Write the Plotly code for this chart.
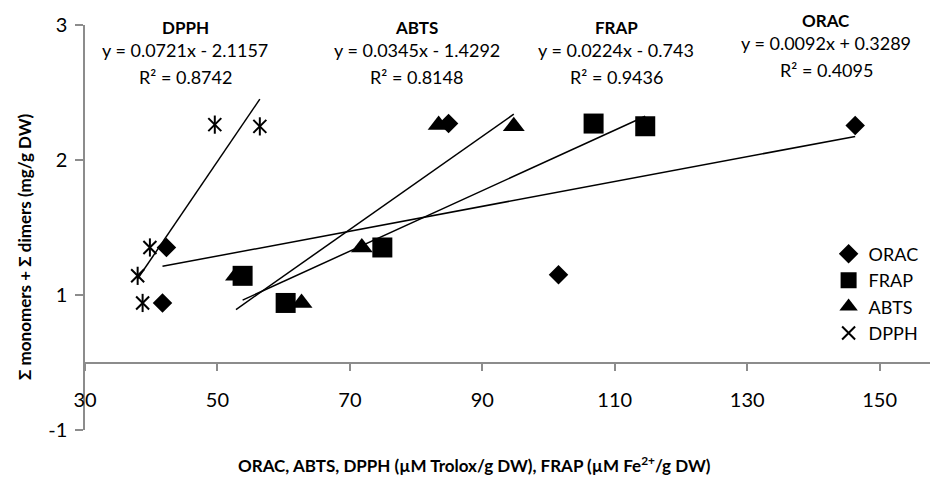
import plotly.graph_objects as go

# ---------------- data ----------------
series_names = ["ORAC", "FRAP", "ABTS", "DPPH"]

orac_x = [41.7, 42.3, 84.9, 101.5, 146.3]
orac_y = [0.441, 0.852, 1.770, 0.650, 1.755]

frap_x = [53.8, 60.3, 74.9, 106.8, 114.6]
frap_y = [0.642, 0.441, 0.852, 1.770, 1.750]

abts_x = [52.8, 62.7, 71.8, 83.4, 94.75]
abts_y = [0.642, 0.441, 0.852, 1.760, 1.750]

dpph_x = [37.95, 38.7, 39.8, 49.6, 56.4]
dpph_y = [0.642, 0.441, 0.852, 1.762, 1.749]

# trendline equations as printed on the chart
slopes = {"ORAC": 0.0092, "FRAP": 0.0224, "ABTS": 0.0345, "DPPH": 0.0721}
intercepts = {"ORAC": 0.3289, "FRAP": -0.743, "ABTS": -1.4292, "DPPH": -2.1157}
r_squared = {"ORAC": "0.4095", "FRAP": "0.9436", "ABTS": "0.8148", "DPPH": "0.8742"}
equations = {
    "DPPH": "y = 0.0721x - 2.1157",
    "ABTS": "y = 0.0345x - 1.4292",
    "FRAP": "y = 0.0224x - 0.743",
    "ORAC": "y = 0.0092x + 0.3289",
}

# axis ticks
x_tickvals = [30, 50, 70, 90, 110, 130, 150]
y_tickvals = [-0.5, 0.5, 1.5, 2.5]
y_ticktext = ["-1", "1", "2", "3"]

# ---------------- figure ----------------
FONT = "Lato, Carlito, 'Liberation Sans', sans-serif"
data = {
    "ORAC": (orac_x, orac_y),
    "FRAP": (frap_x, frap_y),
    "ABTS": (abts_x, abts_y),
    "DPPH": (dpph_x, dpph_y),
}

fig = go.Figure()

# trendlines (spanning each series' x range)
for name in ["DPPH", "ABTS", "FRAP", "ORAC"]:
    xs = data[name][0]
    x0, x1 = min(xs), max(xs)
    fig.add_trace(go.Scatter(
        x=[x0, x1],
        y=[slopes[name] * x0 + intercepts[name], slopes[name] * x1 + intercepts[name]],
        mode="lines", line=dict(color="black", width=1.5),
        showlegend=False, hoverinfo="skip",
    ))

marker_styles = {
    "ORAC": dict(symbol="diamond", size=15, color="black"),
    "FRAP": dict(symbol="square", size=20, color="black"),
    "ABTS": dict(symbol="triangle-up", size=19, color="black"),
    "DPPH": dict(symbol="x-thin-open", size=13, color="black",
                 line=dict(color="black", width=2)),
}

for name in series_names:
    xs, ys = data[name]
    fig.add_trace(go.Scatter(
        x=xs, y=ys, mode="markers", name=name,
        marker=marker_styles[name], legendgroup=name,
    ))

# vertical arm of the DPPH star marker
fig.add_trace(go.Scatter(
    x=dpph_x, y=dpph_y, mode="markers", name="DPPH",
    marker=dict(symbol="line-ns-open", size=13, color="black",
                line=dict(color="black", width=2)),
    legendgroup="DPPH", showlegend=False,
))

# equation blocks
block_pos = {  # x (data), y of the three lines (paper)
    "DPPH": (45.1, [0.995, 0.938, 0.872]),
    "ABTS": (80.1, [0.995, 0.938, 0.872]),
    "FRAP": (110.2, [0.995, 0.938, 0.872]),
    "ORAC": (141.9, [1.012, 0.956, 0.889]),
}
annotations = []
for name, (bx, ys) in block_pos.items():
    texts = [f"<b>{name}</b>", equations[name], f"R² = {r_squared[name]}"]
    sizes = [17, 18, 18]
    for t, yy, sz in zip(texts, ys, sizes):
        annotations.append(dict(
            x=bx, y=yy, xref="x", yref="paper", text=t, showarrow=False,
            xanchor="center", yanchor="middle",
            font=dict(size=sz, color="black", family=FONT),
        ))

# axis titles
annotations.append(dict(
    x=0, y=0.452, xref="paper", yref="paper", xshift=-60,
    text="<b>Σ monomers + Σ dimers (mg/g DW)</b>", textangle=-90,
    showarrow=False, xanchor="center", yanchor="middle",
    font=dict(size=17, color="black", family=FONT),
))
annotations.append(dict(
    x=0.4615, y=0, xref="paper", yref="paper", yshift=-34,
    text="<b>ORAC, ABTS, DPPH (µM Trolox/g DW), FRAP (µM Fe<sup>2+</sup>/g DW)</b>",
    showarrow=False, xanchor="center", yanchor="middle",
    font=dict(size=17, color="black", family=FONT),
))

AXIS_GRAY = "#8c8c8c"
fig.update_layout(
    width=934, height=477,
    margin=dict(l=85, r=4, t=25, b=47),
    paper_bgcolor="white", plot_bgcolor="white",
    font=dict(family=FONT, color="black"),
    annotations=annotations,
    showlegend=True,
    legend=dict(
        x=0.88, y=0.48, xanchor="left", yanchor="top",
        bgcolor="rgba(0,0,0,0)", font=dict(size=18, color="black", family=FONT),
        tracegroupgap=0,
    ),
    xaxis=dict(
        range=[30, 157.6], tickvals=x_tickvals,
        anchor="free", position=1 / 6,
        showline=True, linecolor=AXIS_GRAY, linewidth=1.5,
        ticks="outside", ticklen=8, tickwidth=1.5, tickcolor=AXIS_GRAY,
        ticklabelstandoff=12,
        showgrid=False, zeroline=False,
        tickfont=dict(size=20, color="black", family=FONT),
    ),
    yaxis=dict(
        range=[-0.5, 2.5], tickvals=y_tickvals, ticktext=y_ticktext,
        showline=True, linecolor=AXIS_GRAY, linewidth=1.5,
        ticks="outside", ticklen=8, tickwidth=1.5, tickcolor=AXIS_GRAY,
        ticklabelstandoff=4,
        showgrid=False, zeroline=False,
        tickfont=dict(size=20, color="black", family=FONT),
    ),
)

fig.write_html(
    "out.html",
    config={"displayModeBar": False},
    post_script="document.body.style.margin='0';document.body.style.overflow='hidden';",
)
